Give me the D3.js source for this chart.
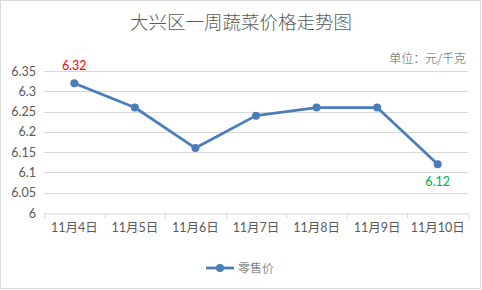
<!DOCTYPE html>
<html>
<head>
<meta charset="utf-8">
<script src="https://d3js.org/d3.v7.min.js"></script>
<style>
  body { margin: 0; background: #fff; }
  text { font-family: Lato, "Noto Sans CJK SC", sans-serif; fill: #595959; }
  .cjk { font-family: "Noto Sans CJK SC", sans-serif; font-weight: 300; }
</style>
</head>
<body>
<div id="chart"></div>
<script>
  var days = ["11月4日", "11月5日", "11月6日", "11月7日", "11月8日", "11月9日", "11月10日"];
  var prices = [6.32, 6.26, 6.16, 6.24, 6.26, 6.26, 6.12];
  var yTicks = [6, 6.05, 6.1, 6.15, 6.2, 6.25, 6.3, 6.35];

  var width = 482, height = 290;
  var margin = {top: 71, right: 14, bottom: 77, left: 44};
  var lineColor = "#4a7ebb";

  var svg = d3.select("#chart").append("svg")
      .attr("width", width)
      .attr("height", height);

  svg.append("rect")
      .attr("x", 0.5).attr("y", 0.5)
      .attr("width", width - 2).attr("height", height - 2)
      .attr("fill", "#fff")
      .attr("stroke", "#d9d9d9");

  var x = d3.scaleBand()
      .domain(days)
      .range([margin.left, width - margin.right]);

  var y = d3.scaleLinear()
      .domain([6, 6.35])
      .range([height - margin.bottom, margin.top]);

  // gridlines
  svg.append("g")
      .selectAll("line")
      .data(yTicks.slice(1))
      .enter().append("line")
      .attr("x1", margin.left).attr("x2", width - margin.right)
      .attr("y1", function(d) { return Math.round(y(d)) + 0.5; })
      .attr("y2", function(d) { return Math.round(y(d)) + 0.5; })
      .attr("stroke", "#d9d9d9");

  // y labels
  svg.append("g")
      .selectAll("text")
      .data(yTicks)
      .enter().append("text")
      .attr("x", 36)
      .attr("y", function(d) { return y(d) + 4.5; })
      .attr("text-anchor", "end")
      .style("font-size", "12.5px")
      .text(function(d) { return d3.format("")(d); });

  // x axis
  var xAxis = d3.axisBottom(x).tickSize(0).tickPadding(10);
  var xg = svg.append("g")
      .attr("transform", "translate(0," + (Math.round(y(6)) + 0.5) + ")")
      .call(xAxis);
  xg.select(".domain").attr("stroke", "#d9d9d9");
  xg.selectAll("text")
      .style("font-size", "12.5px")
      .style("font-family", "Lato, 'Noto Sans CJK SC', sans-serif")
      .attr("fill", "#595959");

  var bounds = days.map(function(d) { return x(d); }).concat([x(days[days.length - 1]) + x.bandwidth()]);
  xg.selectAll(".bound")
      .data(bounds)
      .enter().append("line")
      .attr("class", "bound")
      .attr("x1", function(d) { return Math.round(d) + 0.5; })
      .attr("x2", function(d) { return Math.round(d) + 0.5; })
      .attr("y1", 0).attr("y2", 5)
      .attr("stroke", "#d9d9d9");

  // line
  var line = d3.line()
      .x(function(d, i) { return x(days[i]) + x.bandwidth() / 2; })
      .y(function(d) { return y(d); });

  svg.append("path")
      .datum(prices)
      .attr("d", line)
      .attr("fill", "none")
      .attr("stroke", lineColor)
      .attr("stroke-width", 2.75)
      .attr("stroke-linejoin", "round");

  svg.append("g")
      .selectAll("circle")
      .data(prices)
      .enter().append("circle")
      .attr("cx", function(d, i) { return x(days[i]) + x.bandwidth() / 2; })
      .attr("cy", function(d) { return y(d); })
      .attr("r", 4)
      .attr("fill", lineColor);

  // data labels: first (red, above) and last (green, below)
  var first = 0, last = prices.length - 1;
  svg.append("text")
      .attr("x", x(days[first]) + x.bandwidth() / 2)
      .attr("y", y(prices[first]) - 13)
      .attr("text-anchor", "middle")
      .style("font-size", "12.5px")
      .style("fill", "#ff0000")
      .text(prices[first].toFixed(2));
  svg.append("text")
      .attr("x", x(days[last]) + x.bandwidth() / 2)
      .attr("y", y(prices[last]) + 22)
      .attr("text-anchor", "middle")
      .style("font-size", "12.5px")
      .style("fill", "#00b050")
      .text(prices[last].toFixed(2));

  // title
  svg.append("text")
      .attr("class", "cjk")
      .attr("x", width / 2)
      .attr("y", 29)
      .attr("text-anchor", "middle")
      .style("font-size", "18.5px")
      .text("大兴区一周蔬菜价格走势图");

  svg.append("text")
      .attr("class", "cjk")
      .attr("x", 466)
      .attr("y", 63)
      .attr("text-anchor", "end")
      .style("font-size", "12px")
      .text("单位：元/千克");

  // legend
  var lg = svg.append("g").attr("transform", "translate(206,268)");
  lg.append("line")
      .attr("x1", 0).attr("x2", 28)
      .attr("stroke", lineColor)
      .attr("stroke-width", 2.75);
  lg.append("circle")
      .attr("cx", 14).attr("r", 4)
      .attr("fill", lineColor);
  lg.append("text")
      .attr("class", "cjk")
      .attr("x", 32).attr("y", 4.5)
      .style("font-size", "12px")
      .text("零售价");
</script>
</body>
</html>
